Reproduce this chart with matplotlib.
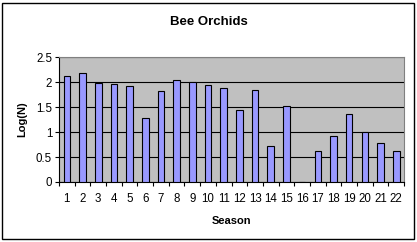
import matplotlib
matplotlib.use("Agg")
import matplotlib.pyplot as plt
from matplotlib.patches import Rectangle

seasons = list(range(1, 23))
log_n = [2.13, 2.19, 1.99, 1.96, 1.92, 1.28, 1.82, 2.04, 2.01, 1.94, 1.88, 1.44,
         1.84, 0.72, 1.52, 0.0, 0.62, 0.92, 1.36, 1.01, 0.78, 0.62]
y_ticks = [0, 0.5, 1, 1.5, 2, 2.5]
y_tick_labels = ["0", "0.5", "1", "1.5", "2", "2.5"]

plt.rcParams['font.family'] = ['Liberation Sans', 'DejaVu Sans']

fig = plt.figure(figsize=(4.17, 2.42), dpi=100)
fig.patch.set_facecolor('white')
fig.patches.append(Rectangle((0.004, 0.012), 0.988, 0.975, transform=fig.transFigure,
                             fill=False, edgecolor='black', linewidth=1.0))

ax = fig.add_axes([0.1415, 0.248, 0.8275, 0.516])
ax.set_facecolor('#C0C0C0')
ax.bar(seasons, log_n, width=0.42, color='#9999FF', edgecolor='black', linewidth=0.8, zorder=3)
ax.set_xlim(0.5, 22.5)
ax.set_ylim(0, 2.5)
ax.set_yticks(y_ticks)
ax.set_yticklabels(y_tick_labels)
ax.yaxis.grid(True, color='black', linewidth=0.8, zorder=1)
ax.set_axisbelow(True)
ax.set_xticks(seasons)
ax.set_xticks([s + 0.5 for s in [0] + seasons], minor=True)
ax.tick_params(axis='x', which='major', length=0, pad=8, labelsize=8.3)
ax.tick_params(axis='x', which='minor', length=3, width=0.8, direction='out')
ax.tick_params(axis='y', length=3, width=0.8, direction='out', labelsize=8.3, pad=2)
for side in ['top', 'right']:
    ax.spines[side].set_color('#808080')
    ax.spines[side].set_linewidth(0.8)
ax.spines['left'].set_linewidth(0.8)
ax.spines['bottom'].set_linewidth(0.8)

fig.text(0.5, 1 - 22 / 242, "Bee Orchids", fontsize=9.5, fontweight='bold',
         ha='center', va='center')
ax.set_xlabel("Season", fontsize=8, fontweight='bold', labelpad=8)
ax.set_ylabel("Log(N)", fontsize=8, fontweight='bold', labelpad=6)

fig.savefig("out.png", dpi=100)
